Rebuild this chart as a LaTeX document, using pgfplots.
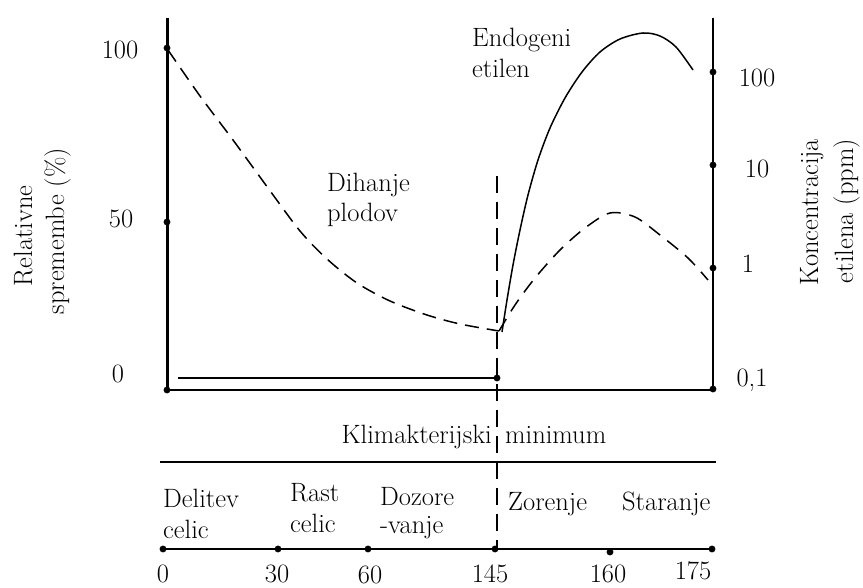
\documentclass[border=0pt]{standalone}
\usepackage{pgfplots}
\pgfplotsset{compat=1.18}
\begin{document}
\begin{tikzpicture}
\tikzset{lbl/.style={font=\fontsize{26.5}{31}\selectfont, inner sep=0pt, text=black}}
\begin{axis}[
  width=863pt, height=588pt, scale only axis,
  xmin=0, xmax=863, ymin=0, ymax=588, y dir=reverse,
  hide axis, clip=false,
]
% frame lines
\addplot[black, line width=3pt] coordinates {(167,18) (167,390)};
\addplot[black, line width=2.8pt] coordinates {(713,18) (713,390)};
\addplot[black, line width=2.4pt] coordinates {(167,390) (713,390)};
\addplot[black, line width=2pt] coordinates {(178,378) (497,378)};
\addplot[black, line width=2.4pt] coordinates {(160,462) (716,462)};
\addplot[black, line width=2.4pt] coordinates {(160,549) (713,549)};
% vertical dashed line (climacteric minimum)
\addplot[black, line width=2.2pt, dash pattern=on 17pt off 9pt] coordinates {(497,176) (497,549)};
% respiration (dashed)
\addplot[black, line width=1.5pt, smooth, dash pattern=on 14pt off 8pt] coordinates {
 (168,50) (200,96) (233,140) (268,188) (300,231) (327,259) (357,283)
 (390,301) (427,315) (460,324) (499,331)};
\addplot[black, line width=1.5pt, smooth, dash pattern=on 14pt off 9pt] coordinates {
 (499,331) (515,305) (535,278) (560,250) (585,228) (610,213) (635,217)
 (660,235) (688,258) (708,280)};
% endogenous ethylene (solid)
\addplot[black, line width=1.5pt, smooth] coordinates {
 (502,332) (507,300) (513,265) (520,230) (528,195) (538,160) (550,128)
 (565,98) (582,72) (600,52) (620,39) (643,33) (660,36) (676,47) (693,70)};
% dots
\addplot[only marks, mark=*, mark size=3.2pt, black] coordinates {
 (167,48) (167,222) (167,390) (713,72) (713,165) (713,268) (713,389) (497,378)
 (163,549) (278,549) (368,549) (495,549) (610,552) (712,549)};
% left tick labels
\node[lbl, anchor=base] at (axis cs:120,59) {100};
\node[lbl, anchor=base] at (axis cs:121,228) {50};
\node[lbl, anchor=base] at (axis cs:118,382) {0};
% right tick labels
\node[lbl, anchor=base] at (axis cs:757,87) {100};
\node[lbl, anchor=base] at (axis cs:757,178) {10};
\node[lbl, anchor=base] at (axis cs:748,273) {1};
\node[lbl, anchor=base] at (axis cs:752,387) {0,1};
% axis titles
\node[lbl, anchor=base, rotate=90] at (axis cs:32,236) {Relativne};
\node[lbl, anchor=base, rotate=90] at (axis cs:64,231) {spremembe (\%)};
\node[lbl, anchor=base, rotate=90] at (axis cs:818,212) {Koncentracija};
\node[lbl, anchor=base, rotate=90] at (axis cs:853,211) {etilena (ppm)};
% annotations
\node[lbl, anchor=base west] at (axis cs:472,47) {Endogeni};
\node[lbl, anchor=base west] at (axis cs:472,78) {etilen};
\node[lbl, anchor=base west] at (axis cs:327,192) {Dihanje};
\node[lbl, anchor=base west] at (axis cs:327,222) {plodov};
\node[lbl, anchor=base east] at (axis cs:492,443) {Klimakterijski};
\node[lbl, anchor=base west] at (axis cs:505,443) {minimum};
% stages
\node[lbl, anchor=base west] at (axis cs:163,507) {Delitev};
\node[lbl, anchor=base west] at (axis cs:163,538) {celic};
\node[lbl, anchor=base west] at (axis cs:290,501) {Rast};
\node[lbl, anchor=base west] at (axis cs:290,532) {celic};
\node[lbl, anchor=base west] at (axis cs:380,505) {Dozore};
\node[lbl, anchor=base west] at (axis cs:380,533) {-vanje};
\node[lbl, anchor=base west] at (axis cs:508,510) {Zorenje};
\node[lbl, anchor=base west] at (axis cs:622,510) {Staranje};
% timeline labels
\node[lbl, anchor=base] at (axis cs:163,582) {0};
\node[lbl, anchor=base] at (axis cs:277,582) {30};
\node[lbl, anchor=base] at (axis cs:370,583) {60};
\node[lbl, anchor=base] at (axis cs:490,582) {145};
\node[lbl, anchor=base] at (axis cs:608,582) {160};
\node[lbl, anchor=base] at (axis cs:693,579) {175};
\end{axis}
\pgfresetboundingbox
\path (current axis.south west) rectangle (current axis.north east);
\end{tikzpicture}
\end{document}
